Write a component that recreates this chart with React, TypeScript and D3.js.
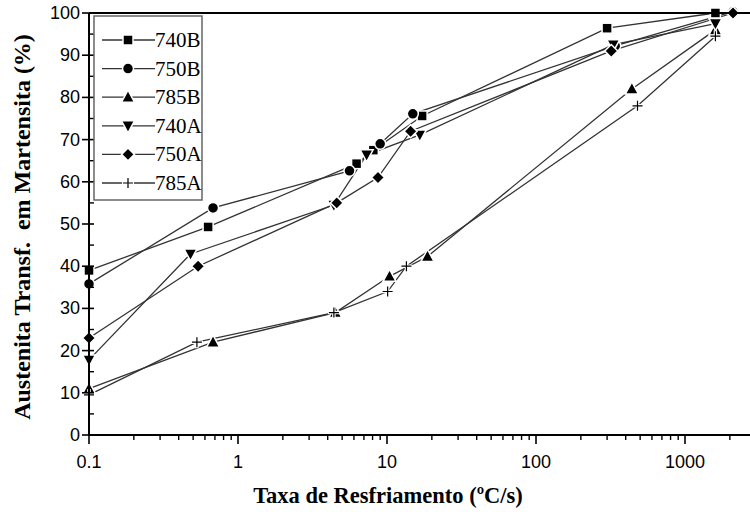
import React from "react";
import * as d3 from "d3";

type Pt = [number, number];
const seriesNames = ["740B", "750B", "785B", "740A", "750A", "785A"];
const markerTypes = ["square", "circle", "triUp", "triDown", "diamond", "plus"];

const s740B: Pt[] = [[0.1, 39], [0.63, 49.3], [6.25, 64.3], [8.1, 67.5], [17.2, 75.6], [300, 96.4], [1600, 100]];
const s750B: Pt[] = [[0.1, 35.8], [0.68, 53.8], [5.6, 62.6], [9, 69], [14.9, 76.1], [340, 92.2], [2100, 100.3]];
const s785B: Pt[] = [[0.1, 11], [0.68, 22], [4.5, 29], [10.4, 37.6], [18.7, 42.3], [440, 82], [1600, 96]];
const s740A: Pt[] = [[0.1, 17.8], [0.48, 42.9], [4.4, 54.5], [7.3, 66.4], [16.6, 71.1], [330, 92.5], [1600, 97.5]];
const s750A: Pt[] = [[0.1, 23], [0.54, 40], [4.6, 55], [8.7, 61], [14.4, 72], [320, 91], [2100, 100]];
const s785A: Pt[] = [[0.1, 9.5], [0.53, 22], [4.4, 29], [10.1, 34], [13.5, 40], [480, 78], [1600, 94.5]];
const allSeries = [s740B, s750B, s785B, s740A, s750A, s785A];

const xTickValues = [0.1, 1, 10, 100, 1000];
const xTickLabels = ["0.1", "1", "10", "100", "1000"];
const yTickValues = [0, 10, 20, 30, 40, 50, 60, 70, 80, 90, 100];

const W = 750, H = 512;
const M = { left: 89, right: 750, top: 13, bottom: 435 };
const SERIF = "'Liberation Serif', 'Times New Roman', serif";
const SANS = "'Liberation Sans', Arial, sans-serif";

function Marker({ type, x, y }: { type: string; x: number; y: number }) {
  const st = { fill: "#000", stroke: "#fff", strokeWidth: 1.5 } as any;
  if (type === "square") return <rect x={x - 5} y={y - 5} width={10} height={10} {...st} />;
  if (type === "circle") return <circle cx={x} cy={y} r={5.5} {...st} />;
  if (type === "triUp") return <path d={`M${x},${y - 7}L${x + 6.5},${y + 5}L${x - 6.5},${y + 5}Z`} {...st} />;
  if (type === "triDown") return <path d={`M${x},${y + 7}L${x + 6.5},${y - 5}L${x - 6.5},${y - 5}Z`} {...st} />;
  if (type === "diamond") return <path d={`M${x},${y - 6.5}L${x + 6.5},${y}L${x},${y + 6.5}L${x - 6.5},${y}Z`} {...st} />;
  return (
    <g>
      <path d={`M${x - 6},${y}H${x + 6}M${x},${y - 6}V${y + 6}`} stroke="#fff" strokeWidth={3.5} />
      <path d={`M${x - 5},${y}H${x + 5}M${x},${y - 5}V${y + 5}`} stroke="#000" strokeWidth={1.2} />
    </g>
  );
}

export default function App() {
  const x = d3.scaleLog().domain([0.1, 0.1 * Math.pow(10, (M.right - M.left) / 149)]).range([M.left, M.right]);
  const y = d3.scaleLinear().domain([0, 100]).range([M.bottom, M.top]);
  const line = d3.line<Pt>().x((d) => x(d[0])).y((d) => y(d[1]));

  const minorX: number[] = [];
  for (let e = -1; e <= 3; e++) for (let k = 2; k <= 9; k++) {
    const v = k * Math.pow(10, e);
    if (x(v) <= M.right) minorX.push(v);
  }
  const minorY: number[] = [];
  for (let v = 5; v < 100; v += 10) minorY.push(v);

  const legendY0 = 40, legendDY = 28.6;

  return (
    <svg width={W} height={H} style={{ position: "absolute", left: 0, top: 0, background: "#fff" }}>
      {allSeries.map((s, i) => (
        <path key={"l" + i} d={line(s) || ""} fill="none" stroke="#333" strokeWidth={1.3} />
      ))}
      {allSeries.map((s, i) =>
        s.map((p, j) => <Marker key={`m${i}-${j}`} type={markerTypes[i]} x={x(p[0])} y={y(p[1])} />)
      )}
      <line x1={M.left} x2={M.right} y1={M.top} y2={M.top} stroke="#000" strokeWidth={2} />
      <line x1={M.left} x2={M.right} y1={M.bottom} y2={M.bottom} stroke="#000" strokeWidth={2} />
      <line x1={M.left} x2={M.left} y1={M.top} y2={M.bottom} stroke="#000" strokeWidth={2} />
      {xTickValues.map((v, i) => (
        <g key={"xt" + i}>
          <line x1={x(v)} x2={x(v)} y1={M.bottom} y2={M.bottom + 9} stroke="#000" strokeWidth={1.6} />
          <text x={x(v)} y={M.bottom + 33} textAnchor="middle" fontFamily={SANS} fontSize={18}>
            {xTickLabels[i]}
          </text>
        </g>
      ))}
      {minorX.map((v, i) => (
        <line key={"xm" + i} x1={x(v)} x2={x(v)} y1={M.bottom} y2={M.bottom + 5} stroke="#000" strokeWidth={1.4} />
      ))}
      {yTickValues.map((v) => (
        <g key={"yt" + v}>
          <line x1={M.left - 7} x2={M.left + 5} y1={y(v)} y2={y(v)} stroke="#000" strokeWidth={1.6} />
          <text x={M.left - 9} y={y(v) + 6} textAnchor="end" fontFamily={SANS} fontSize={18}>
            {v}
          </text>
        </g>
      ))}
      {minorY.map((v) => (
        <line key={"ym" + v} x1={M.left} x2={M.left + 5} y1={y(v)} y2={y(v)} stroke="#000" strokeWidth={1.4} />
      ))}
      <text x={388} y={503} textAnchor="middle" fontFamily={SERIF} fontWeight="bold" fontSize={22.5}>
        Taxa de Resfriamento (ºC/s)
      </text>
      <text
        transform={`translate(30, 227) rotate(-90)`}
        textAnchor="middle"
        fontFamily={SERIF}
        fontWeight="bold"
        fontSize={24}
        style={{ whiteSpace: "pre" }}
      >
        {"Austenita Transf.  em Martensita (%)"}
      </text>
      <rect x={94} y={16} width={108} height={184} fill="#fff" stroke="#666" strokeWidth={1.5} />
      {seriesNames.map((n, i) => {
        const ly = legendY0 + i * legendDY;
        return (
          <g key={"lg" + i}>
            <line x1={102} x2={155} y1={ly} y2={ly} stroke="#333" strokeWidth={1.3} />
            <Marker type={markerTypes[i]} x={128} y={ly} />
            <text x={155} y={ly + 7} fontFamily={SERIF} fontSize={21}>
              {n}
            </text>
          </g>
        );
      })}
    </svg>
  );
}
